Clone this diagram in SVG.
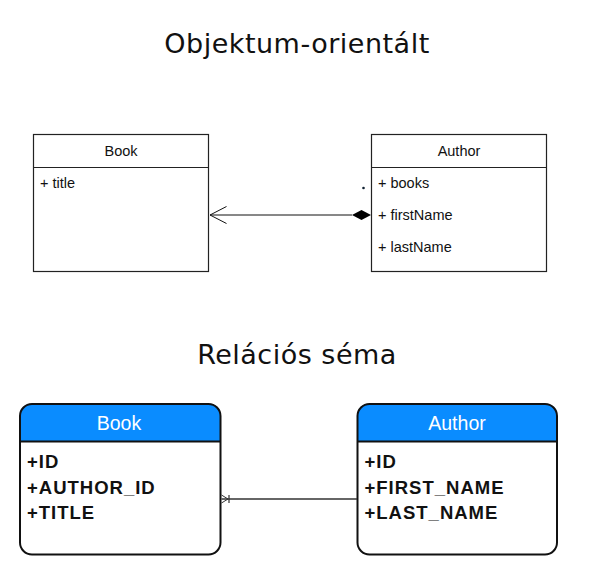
<svg xmlns="http://www.w3.org/2000/svg" width="595" height="580" viewBox="0 0 595 580">
<style>
.title{font-family:"DejaVu Sans","Open Sans",sans-serif;font-size:27px;fill:#111;text-anchor:middle;letter-spacing:0.5px}
.uml{fill:#fff;stroke:#222;stroke-width:1.2}
.umlh{font-family:"Liberation Sans",Arial,sans-serif;font-size:14.5px;fill:#111;text-anchor:middle}
.umla{font-family:"Liberation Sans",Arial,sans-serif;font-size:14.5px;fill:#111}
.erbg{fill:#fff}
.hdr{fill:#0a8cff}
.er{fill:none;stroke:#111;stroke-width:2}
.erh{font-family:"Liberation Sans",Arial,sans-serif;font-size:19.5px;fill:#fff;text-anchor:middle}
.era{font-family:"Liberation Sans",Arial,sans-serif;font-size:18.5px;font-weight:bold;fill:#111;letter-spacing:1px}
</style>
<rect width="595" height="580" fill="#fff"/>
<text class="title" x="297" y="53">Objektum-orientált</text>
<text class="title" x="297" y="364">Relációs séma</text>

<g id="uml-book">
<rect class="uml" x="33.5" y="134.5" width="175" height="137"/>
<line class="uml" x1="33.5" y1="167.5" x2="208.5" y2="167.5"/>
<text class="umlh" x="121" y="156">Book</text>
<text class="umla" x="40" y="188">+ title</text>
</g>

<g id="uml-author">
<rect class="uml" x="371.5" y="134.5" width="175" height="137"/>
<line class="uml" x1="371.5" y1="167.5" x2="546.5" y2="167.5"/>
<text class="umlh" x="459" y="156">Author</text>
<text class="umla" x="378" y="188">+ books</text>
<text class="umla" x="378" y="220">+ firstName</text>
<text class="umla" x="378" y="252">+ lastName</text>
</g>

<g id="er-book">
<rect class="erbg" x="20" y="404" width="200.5" height="150.5" rx="12"/>
<path class="hdr" d="M20,441.5 V416 Q20,404 32,404 H208.5 Q220.5,404 220.5,416 V441.5 Z"/>
<rect class="er" x="20" y="404" width="200.5" height="150.5" rx="12"/>
<line class="er" x1="20" y1="441.5" x2="220.5" y2="441.5"/>
<text class="erh" x="119" y="430">Book</text>
<text class="era" x="27" y="467.5">+ID</text>
<text class="era" x="27" y="493.5">+AUTHOR_ID</text>
<text class="era" x="27" y="518.5">+TITLE</text>
</g>

<g id="er-author">
<rect class="erbg" x="357.5" y="404" width="199.5" height="150.5" rx="12"/>
<path class="hdr" d="M357.5,441.5 V416 Q357.5,404 369.5,404 H545 Q557,404 557,416 V441.5 Z"/>
<rect class="er" x="357.5" y="404" width="199.5" height="150.5" rx="12"/>
<line class="er" x1="357.5" y1="441.5" x2="557" y2="441.5"/>
<text class="erh" x="457" y="430">Author</text>
<text class="era" x="364.5" y="467.5">+ID</text>
<text class="era" x="364.5" y="493.5">+FIRST_NAME</text>
<text class="era" x="364.5" y="518.5">+LAST_NAME</text>
</g>

<g id="connectors">
<line x1="210" y1="215" x2="352" y2="215" stroke="#111" stroke-width="1"/>
<polyline points="226.5,206.5 210,215 226.5,223.5" fill="none" stroke="#111" stroke-width="1"/>
<polygon points="352,215 361.5,210 371,215 361.5,220" fill="#000"/>
<circle cx="363.5" cy="188" r="1.3" fill="#123"/>
<line x1="221.5" y1="499" x2="357" y2="499" stroke="#333" stroke-width="1.3"/>
<line x1="229" y1="495" x2="229" y2="503" stroke="#333" stroke-width="1.2"/>
<polyline points="221.5,495 228,499 221.5,503" fill="none" stroke="#333" stroke-width="1"/>
</g>
</svg>
